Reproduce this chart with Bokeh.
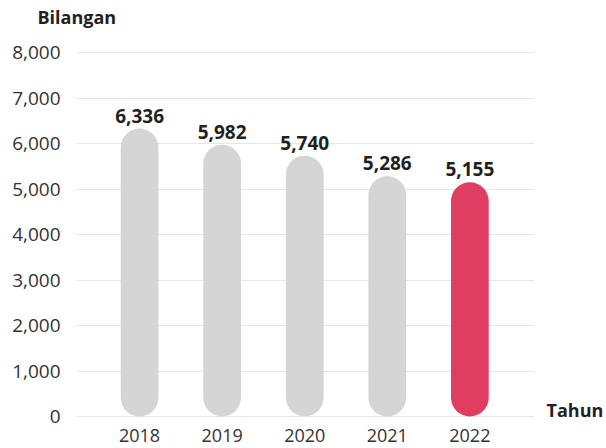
from bokeh.plotting import figure
from bokeh.models import ColumnDataSource, Range1d, FixedTicker, LinearAxis, NumeralTickFormatter
from bokeh.core.properties import value
from bokeh.embed import file_html
from bokeh.resources import INLINE

years = ["2018", "2019", "2020", "2021", "2022"]
counts = [6336, 5982, 5740, 5286, 5155]
count_labels = ["6,336", "5,982", "5,740", "5,286", "5,155"]
bar_colors = ["#d5d5d5", "#d5d5d5", "#d5d5d5", "#d5d5d5", "#df3d62"]
y_ticks = [0, 1000, 2000, 3000, 4000, 5000, 6000, 7000, 8000]
y_title = "Bilangan"
x_title = "Tahun"

FONT = "Open Sans"

xs = list(range(len(years)))
src = ColumnDataSource(dict(x=xs, top=counts, lab=count_labels, color=bar_colors))

X0, X1 = -0.764, 4.783
Y0, Y1 = -176, 8187
p = figure(width=606, height=448, output_backend="svg", toolbar_location=None,
           x_range=Range1d(X0, X1), y_range=Range1d(Y0, Y1),
           min_border_left=76, min_border_right=69, min_border_top=44, min_border_bottom=24)
p.outline_line_color = None
p.background_fill_color = "white"

p.vbar(x="x", top="top", bottom=0, width=0.457, fill_color="color", line_color=None,
       border_radius=19, source=src)
p.text(x="x", y="top", text="lab", source=src, text_align="center", text_baseline="bottom",
       y_offset=-6, text_font=value(FONT), text_font_style="bold", text_font_size="19px",
       text_color="#231f20")

p.xgrid.grid_line_color = None
p.ygrid.ticker = FixedTicker(ticks=y_ticks)
p.ygrid.grid_line_color = "#e6e6e6"
p.ygrid.grid_line_width = 1

p.yaxis.ticker = FixedTicker(ticks=y_ticks)
p.yaxis.formatter = NumeralTickFormatter(format="0,0")
p.yaxis.axis_line_color = None
p.yaxis.major_tick_line_color = None
p.yaxis.minor_tick_line_color = None
p.yaxis.major_tick_out = 0
p.yaxis.major_tick_in = 0
p.yaxis.major_label_standoff = 16
p.yaxis.major_label_text_font = FONT
p.yaxis.major_label_text_font_size = "19px"
p.yaxis.major_label_text_color = "#333333"

p.xaxis.ticker = FixedTicker(ticks=xs)
p.xaxis.major_label_overrides = {i: y for i, y in enumerate(years)}
p.xaxis.axis_line_color = None
p.xaxis.major_tick_line_color = None
p.xaxis.minor_tick_line_color = None
p.xaxis.major_tick_out = 0
p.xaxis.major_tick_in = 0
p.xaxis.major_label_standoff = 4
p.xaxis.major_label_text_font = FONT
p.xaxis.major_label_text_font_size = "18px"
p.xaxis.major_label_text_color = "#333333"

# y-axis title "Bilangan" as a single labelled tick above the frame's left edge
title_pos = -0.76
top_axis = LinearAxis(ticker=FixedTicker(ticks=[title_pos]),
                      major_label_overrides={title_pos: y_title},
                      axis_line_color=None, major_tick_line_color=None, minor_tick_line_color=None,
                      major_tick_out=0, major_tick_in=0, major_label_standoff=16,
                      major_label_text_font=FONT, major_label_text_font_style="bold",
                      major_label_text_font_size="18px", major_label_text_color="#231f20")
p.add_layout(top_axis, "above")

# extra range shifted so that the "Tahun" label sits just above the zero line
shift = 150
p.extra_y_ranges = {"tahun": Range1d(Y0 - shift, Y1 - shift)}
right_axis = LinearAxis(y_range_name="tahun", ticker=FixedTicker(ticks=[0]),
                        major_label_overrides={0: x_title},
                        axis_line_color=None, major_tick_line_color=None, minor_tick_line_color=None,
                        major_tick_out=0, major_tick_in=0, major_label_standoff=12,
                        major_label_text_font=FONT, major_label_text_font_style="bold",
                        major_label_text_font_size="18px", major_label_text_color="#231f20")
p.add_layout(right_axis, "right")

open("out.html", "w").write(file_html(p, INLINE))
